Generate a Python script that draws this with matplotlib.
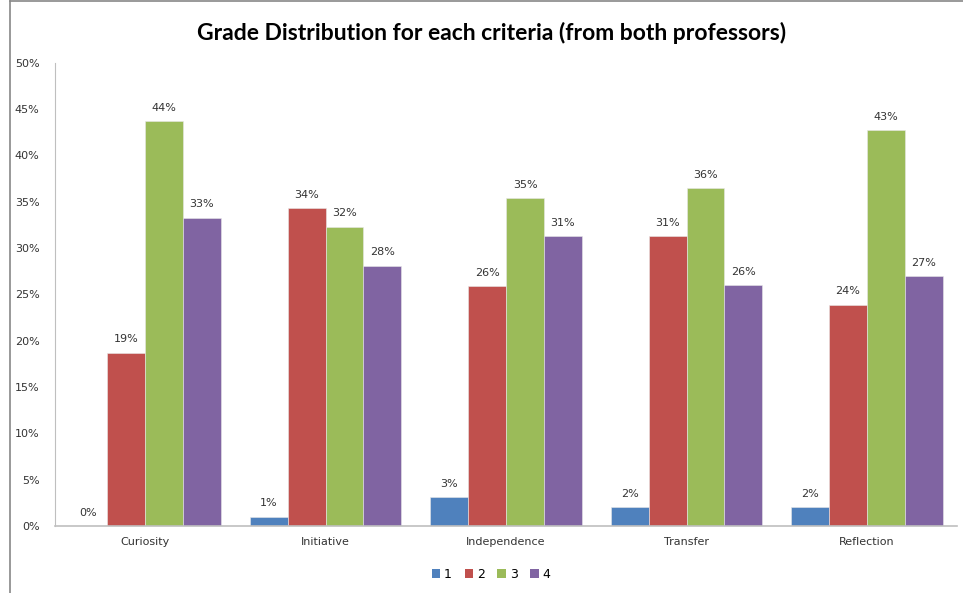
import matplotlib.pyplot as plt
import numpy as np
from matplotlib.lines import Line2D
from matplotlib.patches import Patch

# Data (percent of students)
criteria = ['Curiosity', 'Initiative', 'Independence', 'Transfer', 'Reflection']
grade1 = [0.0, 1.0, 3.1, 2.05, 2.05]
grade2 = [18.7, 34.3, 25.9, 31.3, 23.9]
grade3 = [43.7, 32.3, 35.4, 36.5, 42.7]
grade4 = [33.3, 28.1, 31.3, 26.0, 27.0]
series_names = ['1', '2', '3', '4']
colors = ['#4F81BD', '#C0504D', '#9BBB59', '#8064A2']

series = [grade1, grade2, grade3, grade4]

fig = plt.figure(figsize=(9.63, 5.93), dpi=100)
ax = fig.add_axes([0.057, 0.113, 0.937, 0.781])

x = np.arange(len(criteria))
w = 0.21
for i, vals in enumerate(series):
    pos = x + (i - 1.5) * w
    ax.bar(pos, vals, width=w, color=colors[i], edgecolor='#E8E8E8', linewidth=0.4, zorder=2)
    for p, v in zip(pos, vals):
        ax.text(p, v + 0.9, '%d%%' % round(v), ha='center', va='bottom',
                fontsize=8, color='#333333', family='DejaVu Sans')

ax.set_xlim(-0.5, 4.5)
ax.set_ylim(0, 50)
ax.set_yticks(np.arange(0, 51, 5))
ax.set_yticklabels(['%d%%' % t for t in range(0, 51, 5)], fontsize=8, color='#333333', family='DejaVu Sans')
ax.set_xticks(x)
ax.set_xticklabels(criteria, fontsize=8, color='#333333', family='DejaVu Sans')
ax.tick_params(axis='both', length=0, pad=8)
ax.tick_params(axis='y', pad=11)

for s in ['top', 'right']:
    ax.spines[s].set_visible(False)
ax.spines['left'].set_color('#BFBFBF')
ax.spines['bottom'].set_color('#BFBFBF')
ax.spines['bottom'].set_linewidth(1.2)

fig.text(0.51, 0.945, 'Grade Distribution for each criteria (from both professors)',
         ha='center', va='center', fontsize=16.5, fontweight='bold', family='Lato')

handles = [Patch(facecolor=c, edgecolor='none') for c in colors]
fig.legend(handles, series_names, loc='center', bbox_to_anchor=(0.51, 0.032), ncol=4,
           frameon=False, fontsize=9, handlelength=0.7, handleheight=0.7,
           handletextpad=0.3, columnspacing=1.0)

# chart frame (left and top edges visible)
fig.add_artist(Line2D([0.0105, 0.0105], [0, 0.998], transform=fig.transFigure, color='#888888', lw=1.2))
fig.add_artist(Line2D([0.0105, 1], [0.998, 0.998], transform=fig.transFigure, color='#888888', lw=1.2))

fig.savefig('out.png', dpi=100)
